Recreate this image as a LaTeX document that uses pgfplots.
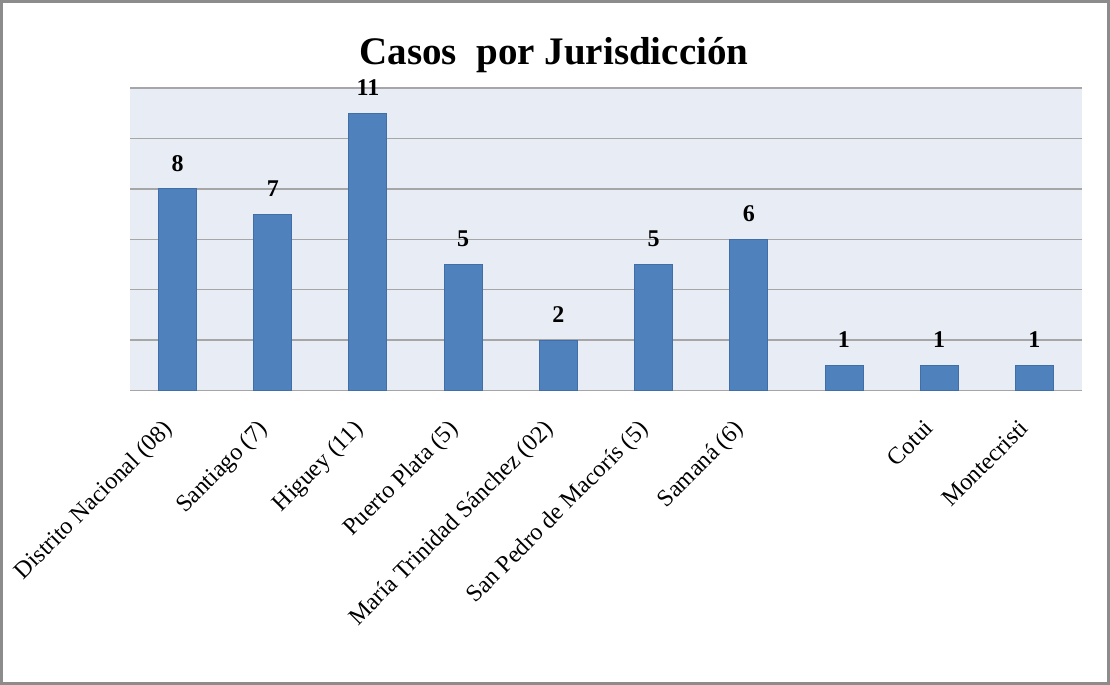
\documentclass[border=0pt]{standalone}
\usepackage{fontspec}
\setmainfont{Liberation Serif}
\usepackage{pgfplots}
\pgfplotsset{compat=1.18}
\definecolor{barblue}{HTML}{4F81BD}
\definecolor{baredge}{HTML}{3F6EA8}
\definecolor{plotbg}{HTML}{E8ECF4}
\definecolor{gridc}{HTML}{A6A6A6}
\definecolor{framec}{HTML}{8C8C8C}
\begin{document}
\begin{tikzpicture}
\useasboundingbox (0pt,0pt) rectangle (555pt,342.5pt);
\draw[line width=1.3pt, framec] (0.65pt,0.65pt) rectangle (554.35pt,341.85pt);
\node[font=\bfseries\fontsize{19.5}{22}\selectfont] at (277pt,315pt) {Casos\ \ por Jurisdicción};
\begin{axis}[
  at={(65pt,147.25pt)}, anchor=south west,
  scale only axis, width=476pt, height=151.25pt,
  xmin=-0.5, xmax=9.5, ymin=0, ymax=12,
  ybar, bar width=19pt,
  xtick={0,...,9},
  xticklabels={Distrito Nacional (08), Santiago (7), Higuey (11), Puerto Plata (5), María Trinidad Sánchez (02), San Pedro de Macorís (5), Samaná (6), {}, Cotui, Montecristi},
  xticklabel style={xshift=-8pt, yshift=-9pt, rotate=45, anchor=north east, font=\fontsize{12}{14}\selectfont, text=black},
  ytick={0,2,...,12}, yticklabels={},
  ymajorgrids, grid style={gridc, line width=0.7pt},
  axis background/.style={fill=plotbg},
  axis x line*=bottom, axis y line*=left,
  y axis line style={draw=none},
  x axis line style={gridc, line width=0.9pt, -},
  major tick length=0pt,
  tick style={draw=none},
  /pgf/number format/assume math mode=true,
  nodes near coords,
  every node near coord/.append style={font=\bfseries\fontsize{12}{14}\selectfont, text=black, inner sep=0pt, yshift=8.5pt},
  clip=false,
]
\addplot[fill=barblue, draw=baredge, line width=0.5pt] coordinates {(0,8) (1,7) (2,11) (3,5) (4,2) (5,5) (6,6) (7,1) (8,1) (9,1)};
\end{axis}
\end{tikzpicture}
\end{document}
